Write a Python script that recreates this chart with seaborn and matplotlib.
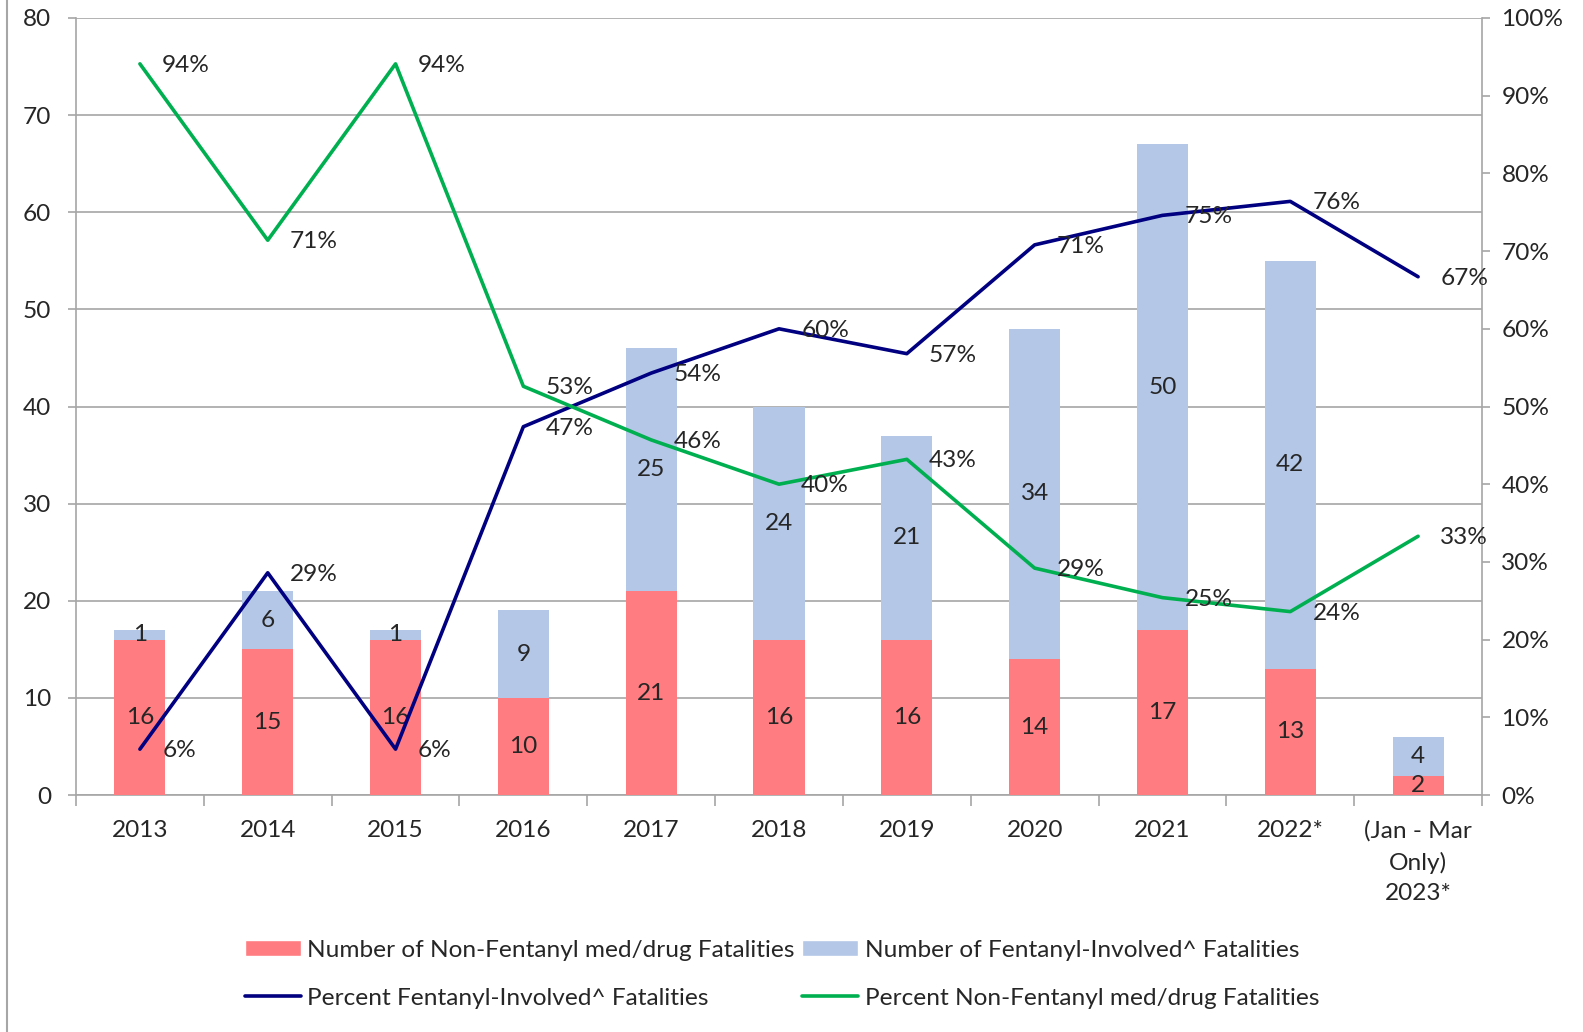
import numpy as np
import pandas as pd
import seaborn as sns
import matplotlib.pyplot as plt
from matplotlib.lines import Line2D
from matplotlib.patches import Patch
from matplotlib.ticker import PercentFormatter, FixedLocator, NullFormatter

# Data
categories = ["2013", "2014", "2015", "2016", "2017", "2018", "2019", "2020",
              "2021", "2022*", "(Jan - Mar\nOnly)\n2023*"]
non_fentanyl = [16, 15, 16, 10, 21, 16, 16, 14, 17, 13, 2]
fentanyl = [1, 6, 1, 9, 25, 24, 21, 34, 50, 42, 4]
pct_fentanyl = [5.9, 28.6, 5.9, 47.4, 54.3, 60.0, 56.8, 70.8, 74.6, 76.4, 66.7]
pct_non_fentanyl = [94.1, 71.4, 94.1, 52.6, 45.7, 40.0, 43.2, 29.2, 25.4, 23.6, 33.3]

RED = "#FF7C80"
BLUE = "#B4C7E7"
NAVY = "#000080"
GREEN = "#00B050"
GRAY = "#A6A6A6"
FS = 17.6

sns.set_style("white")
plt.rcParams["font.family"] = ["Lato", "DejaVu Sans"]

df = pd.DataFrame({"cat": categories, "non": non_fentanyl, "fent": fentanyl})
df["total"] = df["non"] + df["fent"]
x = np.arange(len(categories))

W, H = 1583, 1032
L, R, T, B = 76, 1482, 18, 795
fig = plt.figure(figsize=(W / 100, H / 100), dpi=100)
ax = fig.add_axes([L / W, 1 - B / H, (R - L) / W, (B - T) / H])

# stacked bars: total (blue) underneath, non-fentanyl (red) on top of it
sns.barplot(data=df, x="cat", y="total", color=BLUE, saturation=1, width=0.4,
            linewidth=0, ax=ax, zorder=2)
sns.barplot(data=df, x="cat", y="non", color=RED, saturation=1, width=0.4,
            linewidth=0, ax=ax, zorder=3)

for i, row in df.iterrows():
    ax.text(i, row["non"] / 2, str(row["non"]), ha="center", va="center", fontsize=FS, zorder=4)
    ax.text(i, row["non"] + row["fent"] / 2, str(row["fent"]), ha="center", va="center",
            fontsize=FS, zorder=4)

ax.set_ylim(0, 80)
ax.set_xlim(-0.5, len(categories) - 0.5)
ax.set_yticks(range(0, 81, 10))
ax.set_xlabel("")
ax.set_ylabel("")
ax.yaxis.grid(True, color=GRAY, linewidth=1.2)
ax.set_axisbelow(True)
ax.tick_params(axis="y", direction="out", length=6, width=1.2, color=GRAY, pad=12,
               labelsize=FS, left=True)
ax.tick_params(axis="x", which="major", length=0, pad=18, labelsize=FS)
for lbl in ax.get_xticklabels():
    lbl.set_linespacing(1.55)
ax.xaxis.set_minor_locator(FixedLocator(np.arange(-0.5, len(categories), 1.0)))
ax.xaxis.set_minor_formatter(NullFormatter())
ax.tick_params(axis="x", which="minor", direction="out", length=8, width=1.2, color=GRAY,
               bottom=True)
for s in ["left", "bottom"]:
    ax.spines[s].set_color(GRAY)
    ax.spines[s].set_linewidth(1.2)
ax.spines["top"].set_visible(False)
ax.spines["right"].set_visible(False)

# percentage lines on secondary axis
ax2 = ax.twinx()
sns.lineplot(x=x, y=pct_fentanyl, color=NAVY, linewidth=2.6, ax=ax2)
sns.lineplot(x=x, y=pct_non_fentanyl, color=GREEN, linewidth=2.6, ax=ax2)
for xi, p in zip(x, pct_fentanyl):
    ax2.annotate(f"{round(p)}%", (xi, p), xytext=(16, -1), textcoords="offset points",
                 ha="left", va="center", fontsize=FS)
for xi, p in zip(x, pct_non_fentanyl):
    ax2.annotate(f"{round(p)}%", (xi, p), xytext=(16, -1), textcoords="offset points",
                 ha="left", va="center", fontsize=FS)
ax2.set_ylim(0, 100)
ax2.set_yticks(range(0, 101, 10))
ax2.yaxis.set_major_formatter(PercentFormatter(decimals=0))
ax2.tick_params(axis="y", direction="out", length=6, width=1.2, color=GRAY, pad=8,
                labelsize=FS, right=True)
for s in ["left", "top", "bottom"]:
    ax2.spines[s].set_visible(False)
ax2.spines["right"].set_color(GRAY)
ax2.spines["right"].set_linewidth(1.2)

# legend (row 1: bars, row 2: lines)
handles = [
    Patch(facecolor=RED, label="Number of Non-Fentanyl med/drug Fatalities"),
    Line2D([], [], color=NAVY, linewidth=2.6, label="Percent Fentanyl-Involved^ Fatalities"),
    Patch(facecolor=BLUE, label="Number of Fentanyl-Involved^ Fatalities"),
    Line2D([], [], color=GREEN, linewidth=2.6, label="Percent Non-Fentanyl med/drug Fatalities"),
]
fig.legend(handles=handles, ncol=2, loc="center", bbox_to_anchor=(0.494, 0.056),
           frameon=False, fontsize=FS, handlelength=2.3, handleheight=0.65,
           handletextpad=0.25, columnspacing=0.3, labelspacing=1.1)

# left border of the chart area
fig.add_artist(Line2D([7 / W, 7 / W], [0, 1], color=GRAY, linewidth=1.5))

fig.savefig("out.png", dpi=100)
